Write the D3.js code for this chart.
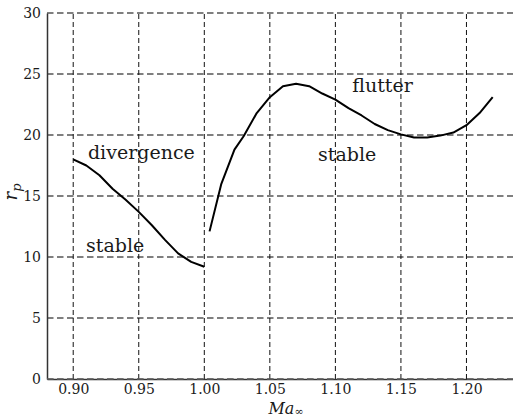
<!DOCTYPE html>
<html>
<head>
<meta charset="utf-8">
<script src="https://cdn.jsdelivr.net/npm/d3@7"></script>
<style>
  html, body { margin: 0; padding: 0; background: #fff; }
  svg { display: block; }
  text { font-family: "DejaVu Serif", "Liberation Serif", serif; fill: #1a1a1a; }
</style>
</head>
<body>
<div id="chart"></div>
<script>
// Stability boundary r_p versus free-stream Mach number
const subsonicMach = [0.90, 0.91, 0.92, 0.93, 0.94, 0.95, 0.96, 0.97, 0.98, 0.99, 1.00];
const subsonicRp   = [18.0, 17.5, 16.7, 15.6, 14.7, 13.7, 12.6, 11.4, 10.3, 9.6, 9.2];

const supersonicMach = [1.004, 1.013, 1.023, 1.03, 1.04, 1.05, 1.06, 1.07, 1.08, 1.09, 1.10,
                        1.11, 1.12, 1.13, 1.14, 1.15, 1.16, 1.17, 1.18, 1.19, 1.20, 1.21, 1.22];
const supersonicRp   = [12.1, 16.0, 18.8, 19.9, 21.8, 23.1, 24.0, 24.2, 24.0, 23.4, 22.9,
                        22.2, 21.6, 20.9, 20.4, 20.05, 19.8, 19.8, 19.95, 20.2, 20.8, 21.8, 23.1];

const xTicks = [0.90, 0.95, 1.00, 1.05, 1.10, 1.15, 1.20];
const yTicks = [0, 5, 10, 15, 20, 25, 30];

// Region annotations: [text, Mach, r_p]
const regionLabels = [
  ["divergence", 0.952, 18.0],
  ["stable", 0.932, 10.4],
  ["flutter", 1.136, 23.5],
  ["stable", 1.109, 17.9]
];

const W = 513, H = 418;
const svg = d3.select("#chart").append("svg").attr("width", W).attr("height", H);

const x = d3.scaleLinear().domain([0.88, 1.2355]).range([47, 513]);
const y = d3.scaleLinear().domain([0, 30]).range([379, 13]);

// Grid
const grid = svg.append("g");
grid.selectAll("line.h").data(yTicks).join("line")
  .attr("x1", x.range()[0]).attr("x2", x.range()[1])
  .attr("y1", d => y(d)).attr("y2", d => y(d))
  .attr("stroke", "#555").attr("stroke-width", 1.4)
  .attr("stroke-dasharray", "6.5,3.5");
grid.selectAll("line.v").data(xTicks).join("line")
  .attr("x1", d => x(d)).attr("x2", d => x(d))
  .attr("y1", y(0)).attr("y2", y(30))
  .attr("stroke", "#111").attr("stroke-width", 1)
  .attr("stroke-dasharray", "5,3");

// Axes
const xAxis = d3.axisBottom(x).tickValues(xTicks).tickFormat(d3.format(".2f")).tickSize(0).tickPadding(5);
const yAxis = d3.axisLeft(y).tickValues(yTicks).tickFormat(d3.format("d")).tickSize(0).tickPadding(6);

const gx = svg.append("g").attr("transform", `translate(0,${y(0)})`).call(xAxis);
const gy = svg.append("g").attr("transform", `translate(${x.range()[0]},0)`).call(yAxis);
[gx, gy].forEach(g => {
  g.select(".domain").attr("stroke", "#333").attr("stroke-width", 1.5);
  g.selectAll("text").attr("font-family", "DejaVu Serif").attr("font-size", 14).attr("fill", "#222");
});
gy.selectAll("text").attr("dy", "0.35em");

// Bottom spine grid overlay
svg.append("line")
  .attr("x1", x.range()[0]).attr("x2", x.range()[1])
  .attr("y1", y(0)).attr("y2", y(0))
  .attr("stroke", "#777").attr("stroke-width", 1.2)
  .attr("stroke-dasharray", "6.5,3.5");

// Curves
const line = d3.line().x(d => x(d[0])).y(d => y(d[1]));
const branches = [
  d3.zip(subsonicMach, subsonicRp),
  d3.zip(supersonicMach, supersonicRp)
];
svg.append("g").selectAll("path").data(branches).join("path")
  .attr("d", line)
  .attr("fill", "none").attr("stroke", "#000").attr("stroke-width", 2)
  .attr("stroke-linejoin", "round");

// Region labels
svg.append("g").selectAll("text").data(regionLabels).join("text")
  .attr("x", d => x(d[1])).attr("y", d => y(d[2]))
  .attr("text-anchor", "middle")
  .attr("font-size", 19)
  .text(d => d[0]);

// Axis titles
const yt = svg.append("text")
  .attr("transform", `translate(17,${(y(0) + y(30)) / 2 - 4}) rotate(-90)`)
  .attr("text-anchor", "middle")
  .attr("font-size", 18)
  .attr("font-style", "italic");
yt.append("tspan").text("r");
yt.append("tspan").attr("font-size", 13).attr("dy", 4).text("p");

const xt = svg.append("text")
  .attr("x", (x.range()[0] + x.range()[1]) / 2 + 6)
  .attr("y", 414)
  .attr("text-anchor", "middle")
  .attr("font-size", 16)
  .attr("font-style", "italic");
xt.append("tspan").text("Ma");
xt.append("tspan").attr("font-size", 11).attr("dy", 1).attr("font-style", "normal").text("∞");
</script>
</body>
</html>
